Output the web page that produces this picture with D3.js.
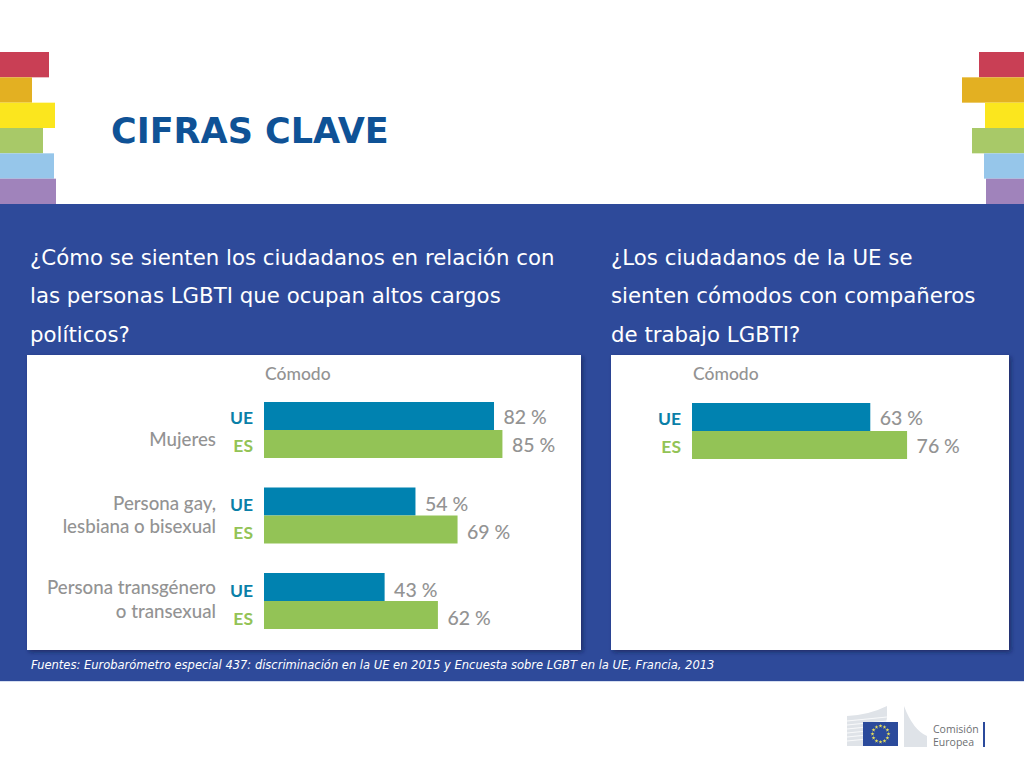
<!DOCTYPE html>
<html lang="es">
<head>
<meta charset="utf-8">
<title>Cifras clave</title>
<script src="https://cdn.jsdelivr.net/npm/d3@7"></script>
<style>
  html, body { margin: 0; padding: 0; background: #fff; }
  svg { display: block; }
  .question { font-family: "DejaVu Sans", sans-serif; font-size: 21.3px; fill: #fff; }
  .lbl { font-family: Lato, sans-serif; font-size: 19.5px; font-weight: 500; fill: #939393; }
</style>
</head>
<body>
<div id="chart"></div>
<script>
// values
const categories = ['Mujeres', 'Persona gay,|lesbiana o bisexual', 'Persona transgénero|o transexual'];
const seriesNames = ['UE', 'ES'];
const ueValues = [82, 54, 43];
const esValues = [85, 69, 62];
const workCategories = ['Trabajo'];
const ueWork = [63];
const esWork = [76];
const stripeColors = ['#c93f55', '#e3b022', '#fbe61e', '#a8c968', '#96c6ea', '#a083bb'];
const stripeLeft = [49, 32, 55, 43, 54, 56];
const stripeRight = [45, 62, 39, 52, 40, 38];
const questionLeft = ['¿Cómo se sienten los ciudadanos en relación con', 'las personas LGBTI que ocupan altos cargos', 'políticos?'];
const questionRight = ['¿Los ciudadanos de la UE se', 'sienten cómodos con compañeros', 'de trabajo LGBTI?'];
const sourceText = 'Fuentes: Eurobarómetro especial 437: discriminación en la UE en 2015 y Encuesta sobre LGBT en la UE, Francia, 2013';

const colors = {UE: '#0082b0', ES: '#93c356'};
const labelColors = {UE: '#0a7fa8', ES: '#93c356'};
const blue = '#2e4a9a';

const svg = d3.select('#chart').append('svg')
  .attr('width', 1024)
  .attr('height', 768)
  .attr('viewBox', '0 0 1024 768');

const defs = svg.append('defs');
const shadow = defs.append('filter').attr('id', 'shadow')
  .attr('x', '-3%').attr('y', '-3%').attr('width', '106%').attr('height', '106%');
shadow.append('feDropShadow')
  .attr('dx', 2).attr('dy', 2).attr('stdDeviation', 2)
  .attr('flood-color', '#101c4a').attr('flood-opacity', 0.6);

// rainbow stripes at both sides
const stripeY = d3.scaleBand().domain(d3.range(stripeColors.length)).range([52, 204]);
svg.append('g').selectAll('rect')
  .data(stripeColors)
  .join('rect')
  .attr('x', 0)
  .attr('y', (d, i) => stripeY(i))
  .attr('width', (d, i) => stripeLeft[i])
  .attr('height', stripeY.bandwidth())
  .attr('fill', d => d);
svg.append('g').selectAll('rect')
  .data(stripeColors)
  .join('rect')
  .attr('x', (d, i) => 1024 - stripeRight[i])
  .attr('y', (d, i) => stripeY(i))
  .attr('width', (d, i) => stripeRight[i])
  .attr('height', stripeY.bandwidth())
  .attr('fill', d => d);

// title
svg.append('text')
  .attr('x', 111)
  .attr('y', 143)
  .attr('font-family', '"DejaVu Sans", sans-serif')
  .attr('font-weight', 'bold')
  .attr('font-size', 35)
  .attr('fill', '#0f5296')
  .text('CIFRAS CLAVE');

// blue band
svg.append('rect')
  .attr('x', 0).attr('y', 204)
  .attr('width', 1024).attr('height', 477)
  .attr('fill', blue);
svg.append('rect')
  .attr('x', 0).attr('y', 681)
  .attr('width', 1024).attr('height', 1)
  .attr('fill', '#d5def0');

function drawQuestion(lines, x) {
  svg.append('g').selectAll('text')
    .data(lines)
    .join('text')
    .attr('class', 'question')
    .attr('x', x)
    .attr('y', (d, i) => 265 + i * 38.3)
    .text(d => d);
}
drawQuestion(questionLeft, 30);
drawQuestion(questionRight, 611);

// one white panel with its grouped bars
function drawPanel(opt) {
  const g = svg.append('g');
  g.append('rect')
    .attr('x', opt.x).attr('y', 355)
    .attr('width', opt.width).attr('height', 295)
    .attr('fill', '#fff')
    .attr('filter', 'url(#shadow)');

  const x = d3.scaleLinear().domain([0, 100]).range([opt.x0, opt.x0 + opt.perPct * 100]);
  const y0 = d3.scaleBand().domain(opt.cats).range(opt.yRange).paddingInner(opt.cats.length > 1 ? 0.345 : 0);
  const y1 = d3.scaleBand().domain(seriesNames).range([0, y0.bandwidth()]);

  g.append('text')
    .attr('class', 'lbl')
    .attr('x', opt.x0 + 1)
    .attr('y', 380)
    .style('font-size', '17.5px')
    .text('Cómodo');

  const groups = g.selectAll('g.group')
    .data(opt.cats.map((c, i) => ({cat: c, idx: i, vals: [opt.ue[i], opt.es[i]]})))
    .join('g')
    .attr('class', 'group')
    .attr('transform', d => `translate(0,${y0(d.cat)})`);

  const rows = d => d.vals.map((v, i) => ({name: seriesNames[i], v, idx: d.idx}));

  groups.selectAll('rect')
    .data(rows)
    .join('rect')
    .attr('x', x(0))
    .attr('y', d => y1(d.name))
    .attr('width', d => x(d.v) - x(0))
    .attr('height', y1.bandwidth())
    .attr('fill', d => colors[d.name]);

  // UE / ES labels
  groups.selectAll('text.series')
    .data(rows)
    .join('text')
    .attr('class', 'series')
    .attr('x', x(0) - 11)
    .attr('y', d => y1(d.name) + y1.bandwidth() / 2 + 7.5 + opt.rowDy[d.idx])
    .attr('text-anchor', 'end')
    .attr('font-family', 'Lato, sans-serif')
    .attr('font-weight', 700)
    .attr('font-size', 17.5)
    .attr('fill', d => labelColors[d.name])
    .text(d => d.name);

  // values
  groups.selectAll('text.val')
    .data(rows)
    .join('text')
    .attr('class', 'val lbl')
    .attr('x', d => x(d.v) + 9.5)
    .attr('y', d => y1(d.name) + y1.bandwidth() / 2 + 8 + opt.rowDy[d.idx])
    .text(d => d.v + ' %');

  // category names
  if (opt.showCats) {
    groups.each(function(d) {
      const lines = d.cat.split('|');
      d3.select(this).selectAll('text.cat')
        .data(lines)
        .join('text')
        .attr('class', 'cat lbl')
        .attr('x', x(0) - 48)
        .attr('y', (l, i) => y0.bandwidth() / 2 + 6.5 + opt.catDy[d.idx] + (i - (lines.length - 1) / 2) * 23.5)
        .attr('text-anchor', 'end')
        .style('font-size', '18.7px')
        .text(l => l);
    });
  }
}

drawPanel({x: 27, width: 554, x0: 264, perPct: 2.805, cats: categories, ue: ueValues, es: esValues, yRange: [402, 629], showCats: true, catDy: [9, -0.5, -1.5], rowDy: [0, 2, 2.5]});
drawPanel({x: 611, width: 398, x0: 692, perPct: 2.83, cats: workCategories, ue: ueWork, es: esWork, yRange: [403, 459], showCats: false, rowDy: [0]});

// source line
svg.append('text')
  .attr('x', 31)
  .attr('y', 669)
  .attr('font-family', '"DejaVu Sans", sans-serif')
  .attr('font-style', 'italic')
  .attr('font-size', 11.5)
  .attr('fill', '#fff')
  .text(sourceText);

// Commission logo
const logo = svg.append('g').attr('transform', 'translate(847,706)');
logo.append('path')
  .attr('d', 'M0,10 Q22,9 40,0 L40,12 L34,40 L0,40 Z')
  .attr('fill', '#dfe3e8');
logo.append('path')
  .attr('d', 'M57,0 Q66,24 80,30 L80,41 L57,41 Z')
  .attr('fill', '#dfe3e8');
logo.selectAll('line.b')
  .data(d3.range(6))
  .join('line')
  .attr('class', 'b')
  .attr('x1', 0).attr('x2', 40)
  .attr('y1', d => 15 + d * 4).attr('y2', d => 11 + d * 4)
  .attr('stroke', '#fff').attr('stroke-width', 0.8);
logo.append('rect')
  .attr('x', 16).attr('y', 16)
  .attr('width', 35).attr('height', 24)
  .attr('fill', '#2b4a9b');
const star = d3.symbol().type(d3.symbolStar).size(5);
logo.selectAll('path.star')
  .data(d3.range(12))
  .join('path')
  .attr('class', 'star')
  .attr('d', star)
  .attr('fill', '#e8df5a')
  .attr('transform', d => {
    const a = d / 12 * 2 * Math.PI;
    return `translate(${33.5 + 8 * Math.cos(a)},${28 + 8 * Math.sin(a)})`;
  });
logo.selectAll('text')
  .data(['Comisión', 'Europea'])
  .join('text')
  .attr('x', 86)
  .attr('y', (d, i) => 27 + i * 12.5)
  .attr('font-family', '"Open Sans", sans-serif')
  .attr('font-size', 10.5)
  .attr('fill', '#6d6f72')
  .text(d => d);
logo.append('rect')
  .attr('x', 136).attr('y', 16)
  .attr('width', 2).attr('height', 25)
  .attr('fill', '#2b4a9b');
</script>
</body>
</html>
